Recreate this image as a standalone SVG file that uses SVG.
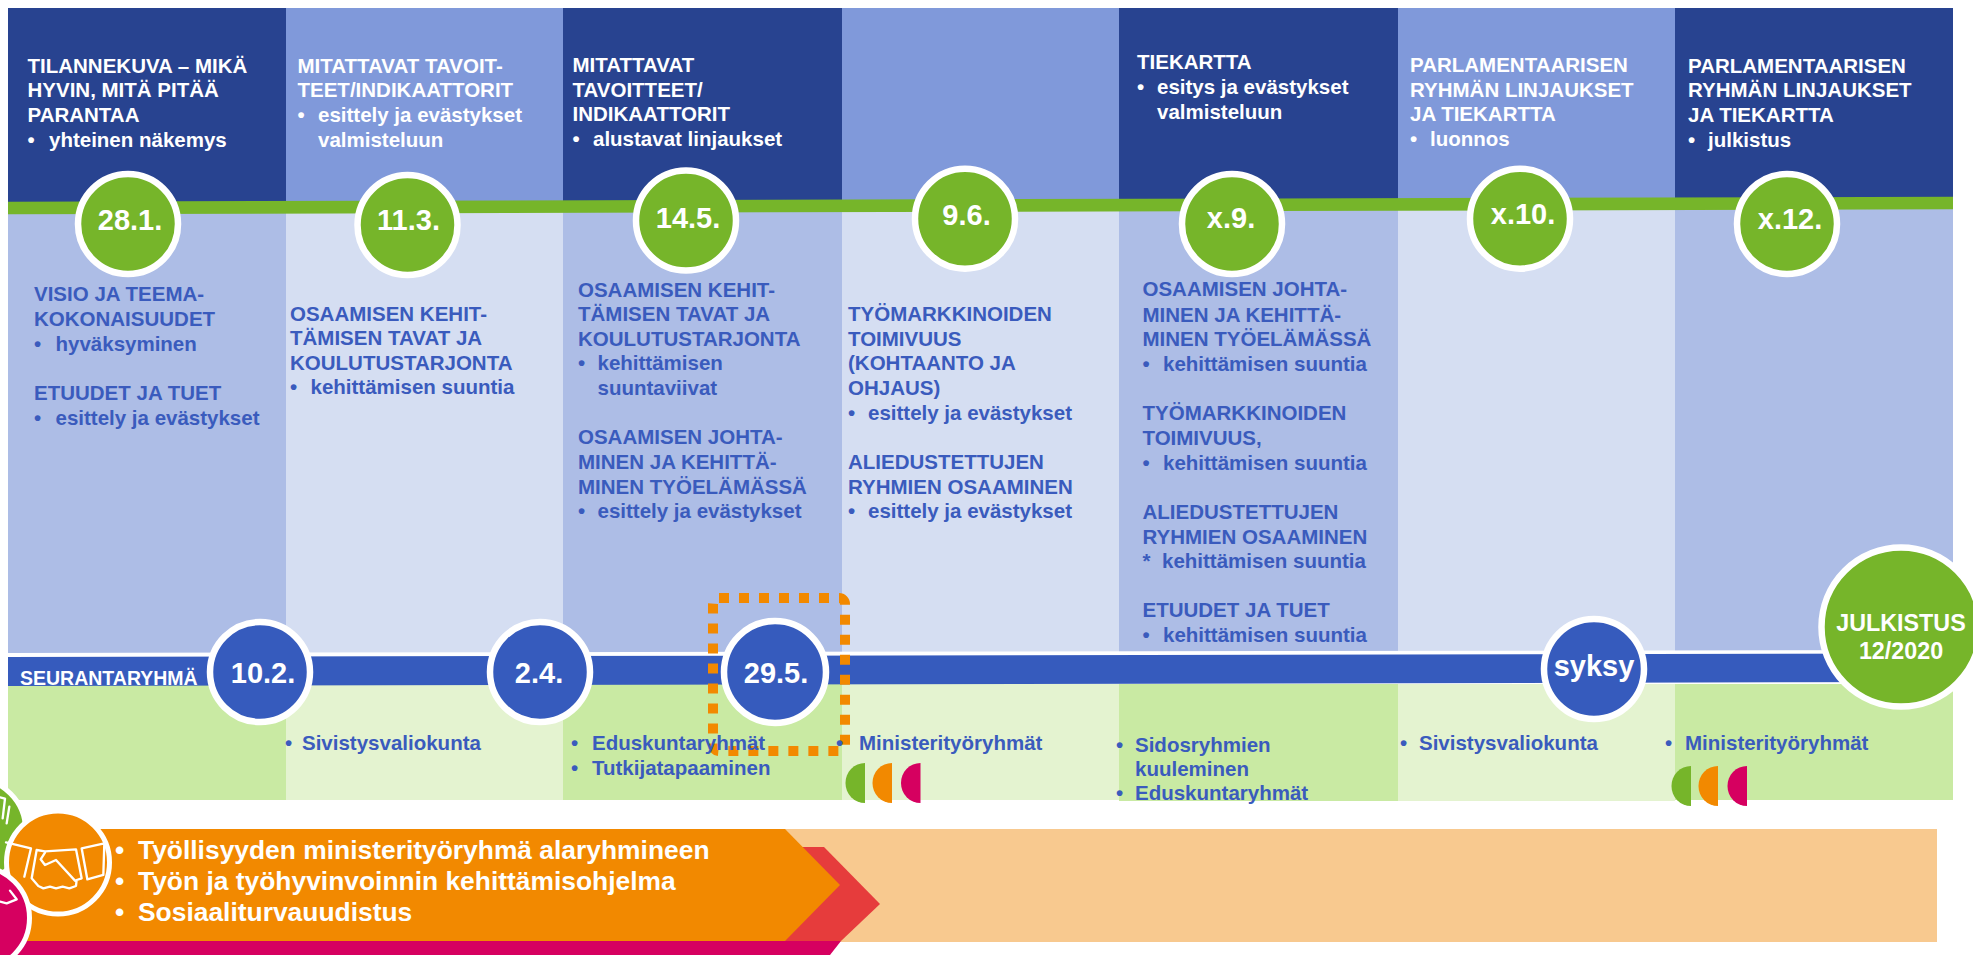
<svg xmlns="http://www.w3.org/2000/svg" width="1973" height="955" viewBox="0 0 1973 955">
<style>
text{font-family:"Liberation Sans",Arial,sans-serif;font-weight:700}
.h{fill:#fff;font-size:20.5px}
.b{fill:#3a5bbd;font-size:20.5px}
.s{fill:#3a5bbd;font-size:20.5px}
.big{fill:#fff;font-size:26.4px}
.n{fill:#fff;font-size:29px;text-anchor:middle}
.dark{fill:#284390}.light{fill:#8099da}.pa{fill:#adbde6}.pb{fill:#d5def2}.ga{fill:#c9eaa3}.gb{fill:#e4f3d0}
.g{fill:#76b52a;stroke:#fff;stroke-width:6.5}
.bl{fill:#365bbd;stroke:#fff;stroke-width:6.5}
.ic{fill:none;stroke:#fff;stroke-width:7;stroke-linejoin:round;stroke-linecap:round}
</style>
<rect width="1973" height="955" fill="#fff"/>
<g id="panels">
<rect class="dark" x="8" y="8" width="278" height="200"/><rect class="pa" x="8" y="208" width="278" height="446"/><rect class="ga" x="8" y="684" width="278" height="116"/>
<rect class="light" x="286" y="8" width="277" height="200"/><rect class="pb" x="286" y="208" width="277" height="446"/><rect class="gb" x="286" y="684" width="277" height="116"/>
<rect class="dark" x="563" y="8" width="279" height="200"/><rect class="pa" x="563" y="208" width="279" height="446"/><rect class="ga" x="563" y="684" width="279" height="116"/>
<rect class="light" x="842" y="8" width="277" height="200"/><rect class="pb" x="842" y="208" width="277" height="446"/><rect class="gb" x="842" y="684" width="277" height="116"/>
<rect class="dark" x="1119" y="8" width="279" height="200"/><rect class="pa" x="1119" y="208" width="279" height="446"/><rect class="ga" x="1119" y="684" width="279" height="117"/>
<rect class="light" x="1398" y="8" width="277" height="200"/><rect class="pb" x="1398" y="208" width="277" height="446"/><rect class="gb" x="1398" y="684" width="277" height="117"/>
<rect class="dark" x="1675" y="8" width="278" height="200"/><rect class="pa" x="1675" y="208" width="278" height="446"/><rect class="ga" x="1675" y="684" width="278" height="116"/>
</g>
<g id="connectors">
<polygon points="8,201.7 1953,196.7 1953,209.3 8,214.3" fill="#76b52a"/>
<polygon points="8,653 1953,650 1953,654 8,657" fill="#fff"/>
<polygon points="8,657 1953,653.5 1953,682 8,686" fill="#365bbd"/>
</g>
<g id="dashed-highlight"><rect x="713" y="598" width="132" height="153" rx="6" fill="none" stroke="#f28900" stroke-width="10" stroke-dasharray="10 10"/></g>
<g id="col1">
<text class="h" x="27.5" y="72.7">TILANNEKUVA – MIKÄ</text><text class="h" x="27.5" y="97">HYVIN, MITÄ PITÄÄ</text><text class="h" x="27.5" y="121.7">PARANTAA</text><text class="h" x="27.5" y="146.7">•</text><text class="h" x="49" y="146.7">yhteinen näkemys</text>
<text class="b" x="34" y="300.7">VISIO JA TEEMA-</text><text class="b" x="34" y="326">KOKONAISUUDET</text><text class="b" x="34" y="351">•</text><text class="b" x="55.5" y="351">hyväksyminen</text><text class="b" x="34" y="400">ETUUDET JA TUET</text><text class="b" x="34" y="425">•</text><text class="b" x="55.5" y="425">esittely ja evästykset</text>
</g>
<g id="col2">
<text class="h" x="297.5" y="72.7">MITATTAVAT TAVOIT-</text><text class="h" x="297.5" y="97">TEET/INDIKAATTORIT</text><text class="h" x="297.5" y="122">•</text><text class="h" x="318" y="122">esittely ja evästykset</text><text class="h" x="318" y="146.7">valmisteluun</text>
<text class="b" x="290" y="320.7">OSAAMISEN KEHIT-</text><text class="b" x="290" y="345">TÄMISEN TAVAT JA</text><text class="b" x="290" y="370">KOULUTUSTARJONTA</text><text class="b" x="290" y="394">•</text><text class="b" x="310.5" y="394">kehittämisen suuntia</text>
<text class="s" x="285" y="750">•</text><text class="s" x="302" y="750">Sivistysvaliokunta</text>
</g>
<g id="col3">
<text class="h" x="572.5" y="72">MITATTAVAT</text><text class="h" x="572.5" y="97">TAVOITTEET/</text><text class="h" x="572.5" y="121">INDIKAATTORIT</text><text class="h" x="572.5" y="146">•</text><text class="h" x="593" y="146">alustavat linjaukset</text>
<text class="b" x="578" y="297">OSAAMISEN KEHIT-</text><text class="b" x="578" y="321">TÄMISEN TAVAT JA</text><text class="b" x="578" y="345.7">KOULUTUSTARJONTA</text><text class="b" x="578" y="370">•</text><text class="b" x="597.5" y="370">kehittämisen</text><text class="b" x="597.5" y="395">suuntaviivat</text>
<text class="b" x="578" y="444">OSAAMISEN JOHTA-</text><text class="b" x="578" y="469">MINEN JA KEHITTÄ-</text><text class="b" x="578" y="493.7">MINEN TYÖELÄMÄSSÄ</text><text class="b" x="578" y="518">•</text><text class="b" x="597.5" y="518">esittely ja evästykset</text>
<text class="s" x="571" y="750">•</text><text class="s" x="592" y="750">Eduskuntaryhmät</text><text class="s" x="571" y="775">•</text><text class="s" x="592" y="775">Tutkijatapaaminen</text>
</g>
<g id="col4">
<text class="b" x="848" y="320.7">TYÖMARKKINOIDEN</text><text class="b" x="848" y="345.7">TOIMIVUUS</text><text class="b" x="848" y="370">(KOHTAANTO JA</text><text class="b" x="848" y="395">OHJAUS)</text><text class="b" x="848" y="420">•</text><text class="b" x="868" y="420">esittely ja evästykset</text>
<text class="b" x="848" y="469">ALIEDUSTETTUJEN</text><text class="b" x="848" y="494">RYHMIEN OSAAMINEN</text><text class="b" x="848" y="518">•</text><text class="b" x="868" y="518">esittely ja evästykset</text>
<text class="s" x="836" y="750">•</text><text class="s" x="859" y="750">Ministerityöryhmät</text>
<path d="M865,763A19.5,20 0 0 0 865,803Z" fill="#76b52a"/><path d="M892,763A19.5,20 0 0 0 892,803Z" fill="#f28900"/><path d="M920.5,763A19.5,20 0 0 0 920.5,803Z" fill="#d60060"/>
</g>
<g id="col5">
<text class="h" x="1137" y="69">TIEKARTTA</text><text class="h" x="1137" y="94">•</text><text class="h" x="1157" y="94">esitys ja evästykset</text><text class="h" x="1157" y="119">valmisteluun</text>
<text class="b" x="1142.5" y="296.4">OSAAMISEN JOHTA-</text><text class="b" x="1142.5" y="322">MINEN JA KEHITTÄ-</text><text class="b" x="1142.5" y="345.7">MINEN TYÖELÄMÄSSÄ</text><text class="b" x="1142.5" y="371.4">•</text><text class="b" x="1163" y="371.4">kehittämisen suuntia</text>
<text class="b" x="1142.5" y="420">TYÖMARKKINOIDEN</text><text class="b" x="1142.5" y="445">TOIMIVUUS,</text><text class="b" x="1142.5" y="470">•</text><text class="b" x="1163" y="470">kehittämisen suuntia</text>
<text class="b" x="1142.5" y="519">ALIEDUSTETTUJEN</text><text class="b" x="1142.5" y="544">RYHMIEN OSAAMINEN</text><text class="b" x="1142.5" y="568">*</text><text class="b" x="1162" y="568">kehittämisen suuntia</text>
<text class="b" x="1142.5" y="617">ETUUDET JA TUET</text><text class="b" x="1142.5" y="642">•</text><text class="b" x="1163" y="642">kehittämisen suuntia</text>
<text class="s" x="1116" y="752">•</text><text class="s" x="1135" y="752">Sidosryhmien</text><text class="s" x="1135" y="776">kuuleminen</text><text class="s" x="1116" y="800">•</text><text class="s" x="1135" y="800">Eduskuntaryhmät</text>
</g>
<g id="col6">
<text class="h" x="1410" y="71.7">PARLAMENTAARISEN</text><text class="h" x="1410" y="96.7">RYHMÄN LINJAUKSET</text><text class="h" x="1410" y="121">JA TIEKARTTA</text><text class="h" x="1410" y="146">•</text><text class="h" x="1430" y="146">luonnos</text>
<text class="s" x="1400" y="750">•</text><text class="s" x="1419" y="750">Sivistysvaliokunta</text>
</g>
<g id="col7">
<text class="h" x="1688" y="72.7">PARLAMENTAARISEN</text><text class="h" x="1688" y="97.3">RYHMÄN LINJAUKSET</text><text class="h" x="1688" y="122">JA TIEKARTTA</text><text class="h" x="1688" y="147">•</text><text class="h" x="1708" y="147">julkistus</text>
<text class="s" x="1665" y="750">•</text><text class="s" x="1685" y="750">Ministerityöryhmät</text>
<path d="M1691,766A19.5,20 0 0 0 1691,806Z" fill="#76b52a"/><path d="M1718,766A19.5,20 0 0 0 1718,806Z" fill="#f28900"/><path d="M1747,766A19.5,20 0 0 0 1747,806Z" fill="#d60060"/>
</g>
<g id="seuranta"><text x="20" y="685" fill="#fff" style="font-size:19.5px">SEURANTARYHMÄ</text></g>
<g id="m-28-1"><circle class="g" cx="128" cy="224" r="50"/><text class="n" x="130" y="230">28.1.</text></g>
<g id="m-11-3"><circle class="g" cx="407.5" cy="225" r="50"/><text class="n" x="408.5" y="230">11.3.</text></g>
<g id="m-14-5"><circle class="g" cx="686" cy="220.5" r="50"/><text class="n" x="688" y="228">14.5.</text></g>
<g id="m-9-6"><circle class="g" cx="965" cy="218.7" r="50"/><text class="n" x="966.5" y="225">9.6.</text></g>
<g id="m-x-9"><circle class="g" cx="1232" cy="224" r="50"/><text class="n" x="1231" y="228">x.9.</text></g>
<g id="m-x-10"><circle class="g" cx="1520" cy="218.7" r="50"/><text class="n" x="1523" y="223.7">x.10.</text></g>
<g id="m-x-12"><circle class="g" cx="1787" cy="224" r="50"/><text class="n" x="1790" y="229">x.12.</text></g>
<g id="m-10-2"><circle class="bl" cx="260" cy="672" r="50"/><text class="n" x="263" y="683">10.2.</text></g>
<g id="m-2-4"><circle class="bl" cx="540" cy="672" r="50"/><text class="n" x="539" y="683">2.4.</text></g>
<g id="m-29-5"><circle class="bl" cx="775" cy="672" r="51"/><text class="n" x="776" y="683">29.5.</text></g>
<g id="m-syksy"><circle class="bl" cx="1594" cy="669" r="50"/><text class="n" x="1594" y="676">syksy</text></g>
<g id="m-julkistus"><circle class="g" cx="1901" cy="627" r="79.5"/><text x="1901" y="631" fill="#fff" text-anchor="middle" style="font-size:23.3px">JULKISTUS</text><text x="1901" y="659" fill="#fff" text-anchor="middle" style="font-size:23.3px">12/2020</text></g>
<g id="roadmap">
<rect x="0" y="829" width="1937" height="113" fill="#f8c98f"/>
<polygon points="0,941 841,941 830,955 0,955" fill="#d60060"/>
<polygon points="790,847 824,847 880,904 841,941 780,941" fill="#e63c3c"/>
<polygon points="0,829 785,829 840,885 785,941 0,941" fill="#f28900"/>
<text class="big" x="115" y="859">•</text><text class="big" x="138" y="859">Työllisyyden ministerityöryhmä alaryhmineen</text>
<text class="big" x="115" y="890">•</text><text class="big" x="138" y="890">Työn ja työhyvinvoinnin kehittämisohjelma</text>
<text class="big" x="115" y="921">•</text><text class="big" x="138" y="921">Sosiaaliturvauudistus</text>
</g>
<g id="icon-green"><circle cx="-26" cy="830" r="51.5" fill="#76b52a" stroke="#fff" stroke-width="5"/><path class="ic" transform="translate(0,760) scale(.3333)" d="M0,112L15,116L8,175M28,140L20,190"/></g>
<g id="icon-orange"><circle cx="58" cy="862.5" r="51.5" fill="#f28900" stroke="#fff" stroke-width="5"/>
<g transform="translate(0,760) scale(.3333)"><path class="ic" d="M18,247L93,265L73,350M245,265L313,250L310,345L262,358Z"/>
<path class="ic" d="M110,270L135,274L228,268L245,355L230,360L228,378L208,385L188,380L168,385L150,380L130,385L115,378L95,355ZM135,278L122,298L135,315L168,300L225,362"/></g></g>
<g id="icon-pink"><circle cx="-22" cy="918" r="51.5" fill="#d60060" stroke="#fff" stroke-width="5"/><path class="ic" transform="translate(0,760) scale(.3333)" d="M0,425L20,430L50,418L30,392"/></g>
</svg>
